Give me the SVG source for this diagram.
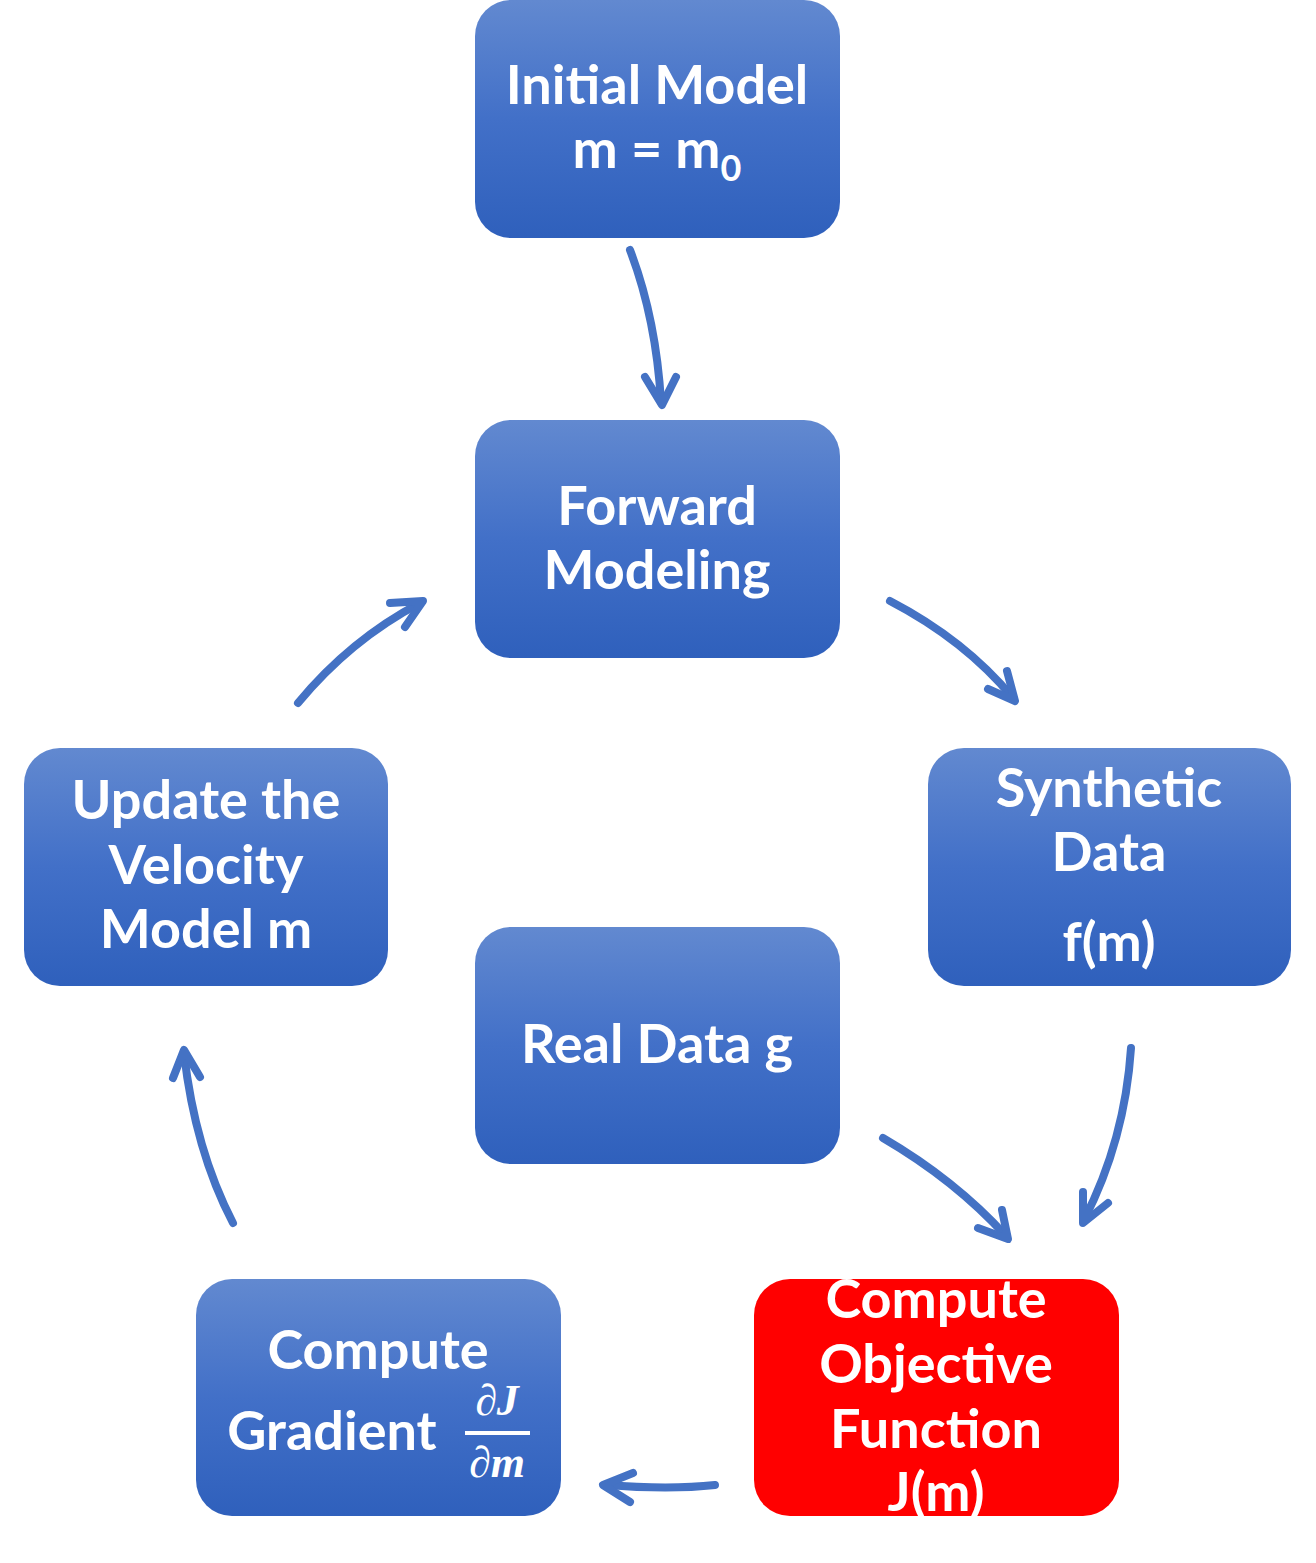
<svg xmlns="http://www.w3.org/2000/svg" width="1316" height="1563" viewBox="0 0 1316 1563">
<defs>
<linearGradient id="blueGrad" x1="0" y1="0" x2="0" y2="1">
<stop offset="0" stop-color="#6289D0"/>
<stop offset="0.5" stop-color="#4270C8"/>
<stop offset="1" stop-color="#2F60BC"/>
</linearGradient>
<style>
.box{fill:url(#blueGrad);}
.red{fill:#FF0000;}
.t{font-family:"Lato","Open Sans",sans-serif;font-weight:700;font-size:54px;fill:#FFFFFF;text-anchor:middle;}
.math{font-family:"Liberation Serif","DejaVu Serif",serif;font-style:italic;font-weight:700;font-size:44px;fill:#FFFFFF;text-anchor:middle;}
.c{fill:none;stroke:#4472C4;stroke-width:8;stroke-linecap:round;stroke-linejoin:round;}
</style>
</defs>
<rect width="1316" height="1563" fill="#FFFFFF"/>
<g id="initial-model">
<rect class="box" x="475" y="0" width="365" height="238" rx="36"/>
<text class="t" x="657" y="104">Initial Model</text>
<text class="t" x="657" y="168">m = m<tspan font-size="36" dy="13">0</tspan></text>
</g>
<g id="forward-modeling">
<rect class="box" x="475" y="420" width="365" height="238" rx="36"/>
<text class="t" x="657" y="525">Forward</text>
<text class="t" x="657" y="589">Modeling</text>
</g>
<g id="synthetic-data">
<rect class="box" x="928" y="748" width="363" height="238" rx="36"/>
<text class="t" x="1109" y="807">Synthetic</text>
<text class="t" x="1109" y="871">Data</text>
<text class="t" x="1109" y="961">f(m)</text>
</g>
<g id="update-model">
<rect class="box" x="24" y="748" width="364" height="238" rx="36"/>
<text class="t" x="206" y="819">Update the</text>
<text class="t" x="206" y="884">Velocity</text>
<text class="t" x="206" y="948">Model m</text>
</g>
<g id="real-data">
<rect class="box" x="475" y="927" width="365" height="237" rx="36"/>
<text class="t" x="657" y="1063">Real Data g</text>
</g>
<g id="compute-gradient">
<rect class="box" x="196" y="1279" width="365" height="237" rx="36"/>
<text class="t" x="378" y="1369">Compute</text>
<text class="t" x="332" y="1450">Gradient</text>
<text class="math" x="497" y="1415">∂J</text>
<line x1="465" y1="1433" x2="530" y2="1433" stroke="#FFFFFF" stroke-width="4"/>
<text class="math" x="497" y="1477">∂m</text>
</g>
<g id="objective-function">
<rect class="red" x="754" y="1279" width="365" height="237" rx="36"/>
<text class="t" x="936" y="1318">Compute</text>
<text class="t" x="936" y="1383">Objective</text>
<text class="t" x="936" y="1448">Function</text>
<text class="t" x="936" y="1511">J(m)</text>
</g>
<g id="connectors">
<path class="c" d="M630,250 Q656,318 661,402"/>
<polyline class="c" points="645,377 662,405 676,377"/>
<path class="c" d="M890,601 Q965,640 1013,698"/>
<polyline class="c" points="988,689 1015,701 1007,671"/>
<path class="c" d="M1131,1048 Q1125,1140 1084,1220"/>
<polyline class="c" points="1083,1192 1083,1223 1108,1203"/>
<path class="c" d="M883,1138 Q955,1180 1006,1236"/>
<polyline class="c" points="978,1228 1008,1239 1002,1210"/>
<path class="c" d="M715,1485 Q670,1490 606,1485"/>
<polyline class="c" points="633,1473 603,1485 630,1502"/>
<path class="c" d="M233,1223 Q195,1150 184,1053"/>
<polyline class="c" points="173,1078 184,1050 200,1077"/>
<path class="c" d="M298,703 Q350,640 420,603"/>
<polyline class="c" points="390,603 423,601 405,627"/>
</g>
</svg>
